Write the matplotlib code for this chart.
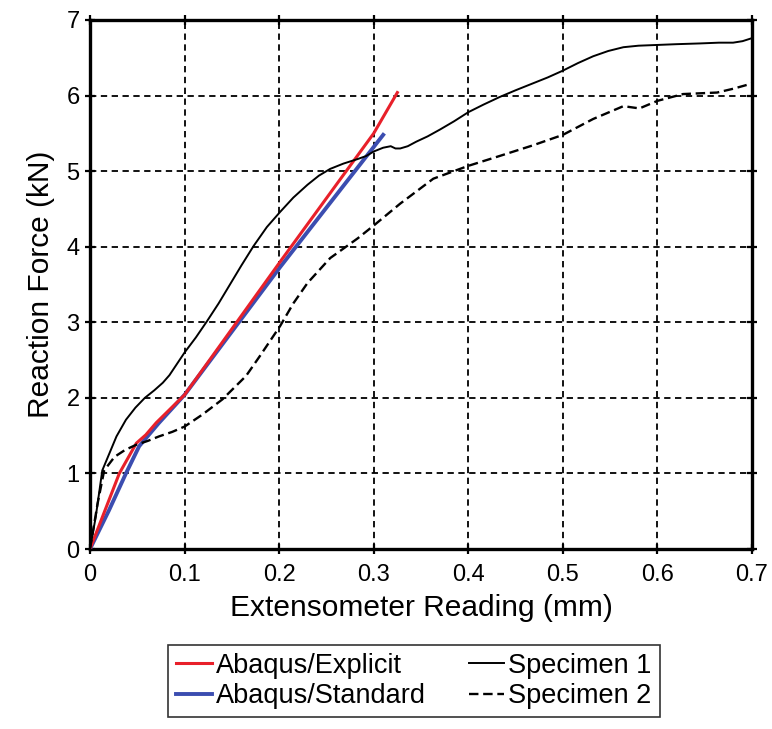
import numpy as np
import matplotlib
matplotlib.use('Agg')
import matplotlib.pyplot as plt

plt.rcParams['font.family'] = ['Liberation Sans', 'DejaVu Sans']

# Specimen 1 (solid)
s1_x = [0, 0.006, 0.013, 0.019, 0.028, 0.038, 0.048, 0.058, 0.068, 0.077, 0.084, 0.092, 0.1,
        0.112, 0.124, 0.136, 0.148, 0.16, 0.173, 0.187, 0.201, 0.215, 0.23, 0.242,
        0.254, 0.268, 0.283, 0.292, 0.3, 0.31, 0.318, 0.323, 0.328, 0.336, 0.345,
        0.357, 0.37, 0.385, 0.4, 0.416, 0.433, 0.45, 0.468, 0.484, 0.5, 0.516, 0.532,
        0.548, 0.564, 0.58, 0.6, 0.62, 0.645, 0.665, 0.68, 0.69, 0.7]
s1_y = [0, 0.42, 1.04, 1.22, 1.49, 1.71, 1.87, 2.0, 2.1, 2.2, 2.3, 2.45, 2.6,
        2.8, 3.02, 3.25, 3.5, 3.75, 4.01, 4.26, 4.46, 4.65, 4.82, 4.94,
        5.03, 5.1, 5.16, 5.2, 5.26, 5.31, 5.33, 5.3, 5.3, 5.33, 5.39,
        5.46, 5.55, 5.66, 5.78, 5.88, 5.98, 6.07, 6.16, 6.24, 6.33, 6.43, 6.52,
        6.59, 6.64, 6.66, 6.67, 6.68, 6.69, 6.70, 6.70, 6.72, 6.76]

# Specimen 2 (dashed)
s2_x = [0, 0.008, 0.015, 0.026, 0.037, 0.049, 0.061, 0.073, 0.087, 0.1, 0.119, 0.14,
        0.165, 0.18, 0.201, 0.215, 0.23, 0.254, 0.283, 0.3, 0.328, 0.363, 0.4, 0.433,
        0.468, 0.5, 0.532, 0.564, 0.581, 0.6, 0.627, 0.663, 0.68, 0.7]
s2_y = [0, 0.6, 1.04, 1.22, 1.31, 1.38, 1.43, 1.49, 1.55, 1.62, 1.78, 1.98,
        2.29, 2.56, 2.95, 3.25, 3.52, 3.85, 4.11, 4.28, 4.57, 4.9, 5.07, 5.2,
        5.34, 5.48, 5.69, 5.86, 5.83, 5.93, 6.02, 6.04, 6.09, 6.16]

# Abaqus/Explicit
ex_x = [0, 0.031, 0.049, 0.059, 0.07, 0.1, 0.201, 0.3, 0.325]
ex_y = [0, 1.0, 1.4, 1.51, 1.67, 2.04, 3.8, 5.5, 6.04]

# Abaqus/Standard
st_x = [0, 0.02, 0.038, 0.052, 0.073, 0.1, 0.201, 0.3, 0.31]
st_y = [0, 0.51, 1.0, 1.36, 1.67, 2.04, 3.73, 5.32, 5.48]

fig = plt.figure(figsize=(7.72, 7.29), dpi=100)
ax = fig.add_axes([90/772, 1-549/729, 662/772, 529/729])

l1, = ax.plot(ex_x, ex_y, color='#e8202a', linewidth=2.2, label='Abaqus/Explicit', zorder=4)
l2, = ax.plot(st_x, st_y, color='#3b4db0', linewidth=2.8, label='Abaqus/Standard', zorder=3)
l3, = ax.plot(s1_x, s1_y, color='black', linewidth=1.4, label='Specimen 1', zorder=5)
l4, = ax.plot(s2_x, s2_y, color='black', linewidth=1.7, linestyle=(0, (4, 2)), label='Specimen 2', zorder=5)

ax.set_xlim(0, 0.7)
ax.set_ylim(0, 7)
ax.set_xticks(np.arange(0, 0.71, 0.1))
ax.set_xticklabels(['0', '0.1', '0.2', '0.3', '0.4', '0.5', '0.6', '0.7'])
ax.set_yticks(range(0, 8))
ax.grid(True, color='black', linestyle=(0, (3.5, 2.5)), linewidth=1.3)
ax.tick_params(direction='inout', length=7, width=1.6, labelsize=17, top=True, right=True, pad=4)
ax.tick_params(axis='x', pad=7)
for s in ax.spines.values():
    s.set_linewidth(2.4)

ax.set_xlabel('Extensometer Reading (mm)', fontsize=21.5, labelpad=6)
ax.set_ylabel('Reaction Force (kN)', fontsize=21.5, labelpad=8)

leg = fig.legend(handles=[l1, l2, l3, l4], ncol=2, loc='center',
                 bbox_to_anchor=(414/772, 1-681/729), fontsize=19.5,
                 frameon=True, fancybox=False, edgecolor='black',
                 handlelength=1.3, handletextpad=0.15, columnspacing=1.6,
                 labelspacing=0.15, borderpad=0.3, borderaxespad=0)
leg.get_frame().set_linewidth(1.2)

fig.savefig('out.png', dpi=100)
